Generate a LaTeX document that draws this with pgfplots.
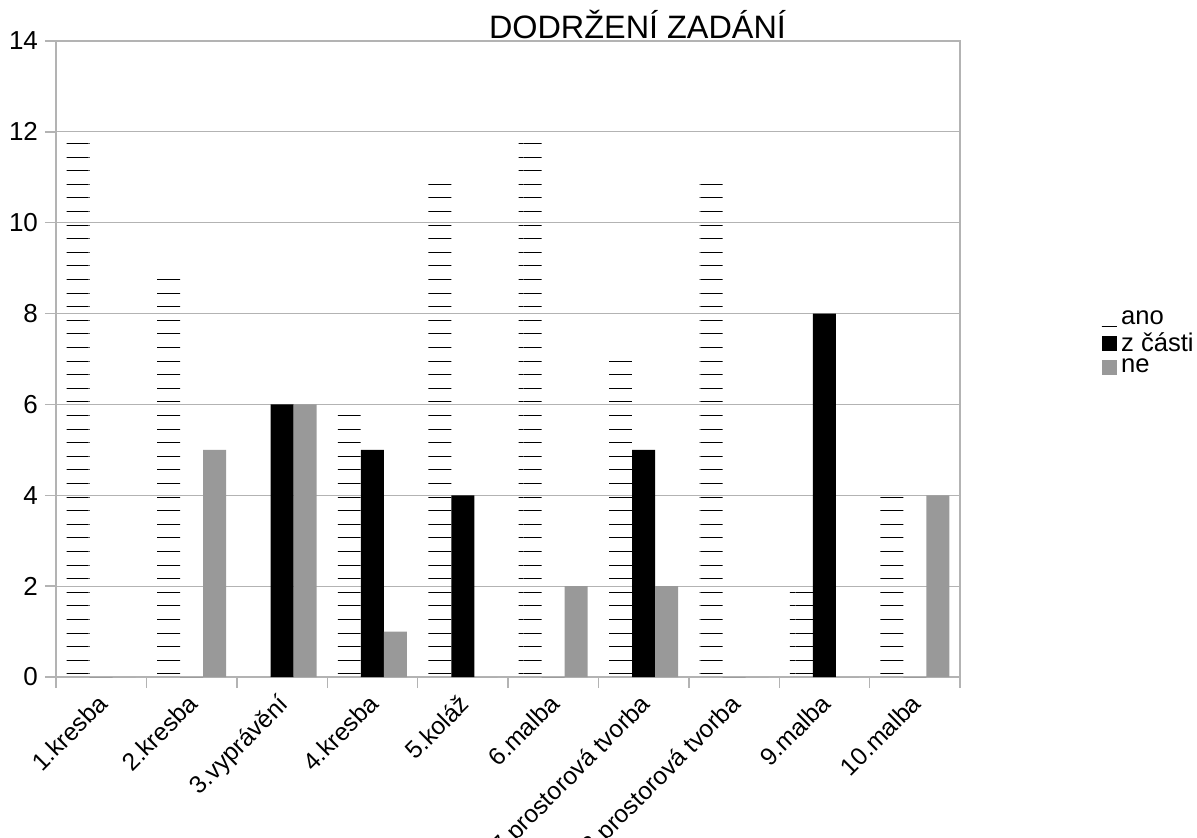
\documentclass[border=0pt]{standalone}
\usepackage{pgfplots}
\pgfplotsset{compat=1.18}
\usetikzlibrary{patterns.meta}
\usepackage{fontspec}
\setmainfont{Liberation Sans}
\definecolor{gridgray}{HTML}{B3B3B3}
\definecolor{negray}{HTML}{999999}

\begin{document}
\begin{tikzpicture}
\path[use as bounding box] (-28pt,-80pt) rectangle (570.5pt,338.5pt);
\begin{axis}[
  at={(0pt,0pt)}, anchor=south west,
  scale only axis, width=452pt, height=318pt,
  xmin=0.5, xmax=10.5, ymin=0, ymax=14,
  ybar=0pt, bar width=11.5pt,
  axis line style={gridgray, line width=0.7pt},
  ymajorgrids, grid style={gridgray, line width=0.6pt},
  ytick={0,2,...,14},
  xtick={0.5,1.5,...,10.5},
  x tick label as interval,
  xticklabels={1.kresba,2.kresba,3.vyprávění,4.kresba,5.koláž,6.malba,7.prostorová tvorba,8.prostorová tvorba,9.malba,10.malba},
  xtick pos=bottom, ytick pos=left,
  tick align=outside, major tick length=5.5pt,
  tick style={gridgray, line width=0.7pt},
  /pgf/number format/assume math mode=true,
  yticklabel style={font=\fontsize{13}{15}\selectfont},
  xticklabel style={font=\fontsize{12.3}{14}\selectfont, xshift=-2.5pt, yshift=2.5pt, rotate=45, anchor=north east},
  legend style={draw=none, fill=none, at={(1.149,0.525)}, anchor=west,
    font=\fontsize{12.8}{14}\selectfont, row sep=-1.5pt,
    /tikz/every even column/.append style={column sep=3pt}},
  legend cell align=left,
]
\addplot[draw=none, pattern={Lines[angle=0, distance=6.8pt, line width=0.5pt]}, pattern color=black,
  legend image code/.code={\draw[black, line width=0.5pt] (0pt,-4pt) -- (7.5pt,-4pt);}]
  coordinates {(1,12) (2,9) (3,0) (4,6) (5,11) (6,12) (7,7) (8,11) (9,2) (10,4)};
\addlegendentry{ano}
\addplot[draw=none, fill=black,
  legend image code/.code={\fill[black] (0pt,-3.7pt) rectangle (7.5pt,3.7pt);}]
  coordinates {(1,0) (2,0) (3,6) (4,5) (5,4) (6,0) (7,5) (8,0) (9,8) (10,0)};
\addlegendentry{z části}
\addplot[draw=none, fill=negray,
  legend image code/.code={\fill[negray] (0pt,-3.7pt) rectangle (7.5pt,3.7pt);}]
  coordinates {(1,0) (2,5) (3,6) (4,1) (5,0) (6,2) (7,2) (8,0) (9,0) (10,4)};
\addlegendentry{ne}
\end{axis}
\node[anchor=base, font=\fontsize{16.2}{18}\selectfont, inner sep=0pt] at (290.75pt,319pt) {DODRŽENÍ ZADÁNÍ};
\end{tikzpicture}
\end{document}
